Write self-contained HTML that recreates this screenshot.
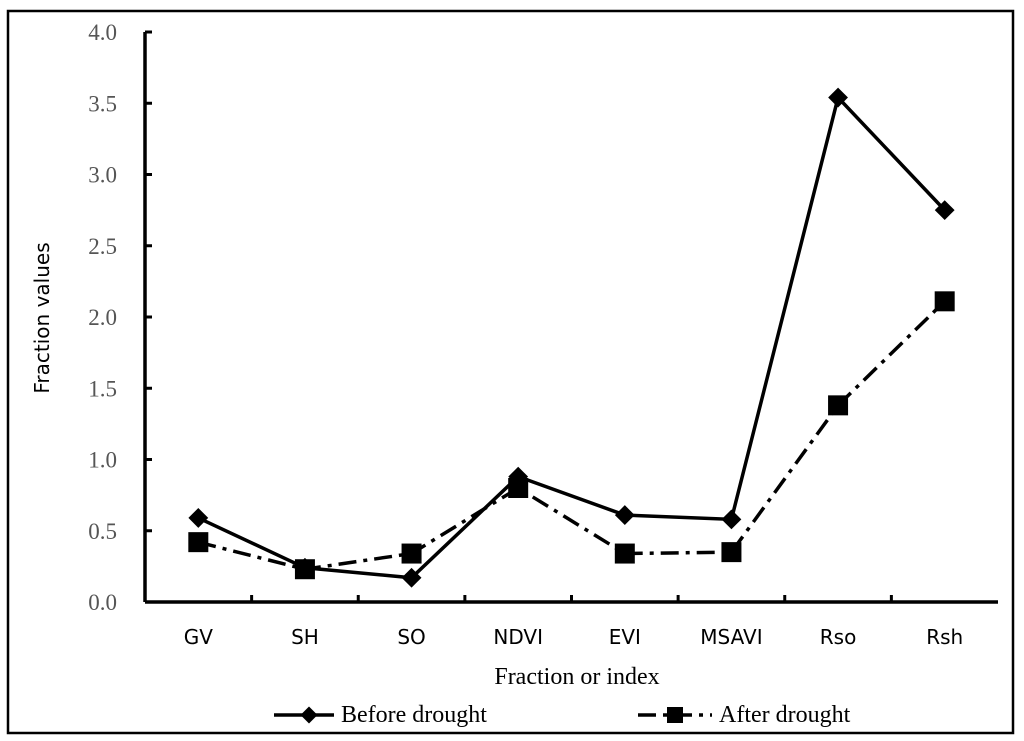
<!DOCTYPE html>
<html><head><meta charset="utf-8"><style>
body{margin:0;background:#fff;width:1024px;height:741px;overflow:hidden}
svg{display:block}
</style></head><body>
<svg id="chart" width="1024" height="741">
<rect x="8" y="11" width="1005" height="722" fill="none" stroke="#000" stroke-width="2.5"/>
<text x="0" y="0" transform="translate(49,318) rotate(-90)" text-anchor="middle" font-family="'DejaVu Sans',sans-serif" font-size="20" fill="#000">Fraction values</text>
<text x="577" y="684" text-anchor="middle" font-family="'Liberation Serif',serif" font-size="24" fill="#000">Fraction or index</text>
<g>
<g>
<line x1="274" y1="715" x2="334" y2="715" stroke="#000" stroke-width="3.5"/>
<rect x="303" y="709" width="12" height="12" transform="rotate(45 309 715)" fill="#000"/>
<text x="341" y="722" font-family="'Liberation Serif',serif" font-size="24" fill="#000">Before drought</text>
</g>
<g>
<line x1="638" y1="715" x2="712" y2="715" stroke="#000" stroke-width="3.5" stroke-dasharray="18,7,4,7"/>
<rect x="667" y="707" width="16" height="16" fill="#000"/>
<text x="719" y="722" font-family="'Liberation Serif',serif" font-size="24" fill="#000">After drought</text>
</g>
</g>
<g id="plot"></g>
</svg>
<script>
const categories=["GV","SH","SO","NDVI","EVI","MSAVI","Rso","Rsh"];
const beforeValues=[0.59,0.24,0.17,0.88,0.61,0.58,3.54,2.75];
const afterValues=[0.42,0.23,0.34,0.80,0.34,0.35,1.38,2.11];
const yTicks=["0.0","0.5","1.0","1.5","2.0","2.5","3.0","3.5","4.0"];
const NS="http://www.w3.org/2000/svg";
const x0=145,x1=998,y0=602,y1=32,yMax=4;
const bw=(x1-x0)/categories.length;
function xs(i){return x0+bw*(i+0.5);}
function ys(v){return y0-(v/yMax)*(y0-y1);}
const g=document.getElementById('plot');
function mk(t,a){const e=document.createElementNS(NS,t);for(const k in a)e.setAttribute(k,a[k]);g.appendChild(e);return e;}
let e=mk('line',{x1:x0,y1:y0,x2:x1,y2:y0,stroke:'#000','stroke-width':3.5});


e=mk('line',{x1:x0,y1:y0,x2:x0,y2:y1,stroke:'#000','stroke-width':3.5});


yTicks.forEach((t,i)=>{const v=parseFloat(t);const y=ys(v);
 mk('line',{x1:x0,y1:y,x2:x0+7,y2:y,stroke:'#000','stroke-width':3});
 const tx=mk('text',{x:117,y:y+8,'text-anchor':'end','font-family':"'Liberation Serif',serif",'font-size':23,fill:'#555'});
 tx.textContent=t;
 
 
});
categories.forEach((c,i)=>{
 if(i>0)mk('line',{x1:x0+bw*i,y1:y0,x2:x0+bw*i,y2:y0-7,stroke:'#000','stroke-width':3});
 const tx=mk('text',{x:xs(i),y:644,'text-anchor':'middle','font-family':"'DejaVu Sans',sans-serif",'font-size':20,fill:'#000'});
 tx.textContent=c;
 
 
});
const pa=afterValues.map((v,i)=>xs(i)+','+ys(v)).join(' ');
e=mk('polyline',{points:pa,fill:'none',stroke:'#000','stroke-width':3.5,'stroke-dasharray':'18,7,4,7'});


const pb=beforeValues.map((v,i)=>xs(i)+','+ys(v)).join(' ');
e=mk('polyline',{points:pb,fill:'none',stroke:'#000','stroke-width':3.5});


afterValues.forEach((v,i)=>{const m=mk('rect',{x:xs(i)-10,y:ys(v)-10,width:20,height:20,fill:'#000'});
 
 });
beforeValues.forEach((v,i)=>{const cx=xs(i),cy=ys(v);const m=mk('rect',{x:cx-7,y:cy-7,width:14,height:14,fill:'#000',transform:`rotate(45 ${cx} ${cy})`});
 
 });
</script>
</body></html>
